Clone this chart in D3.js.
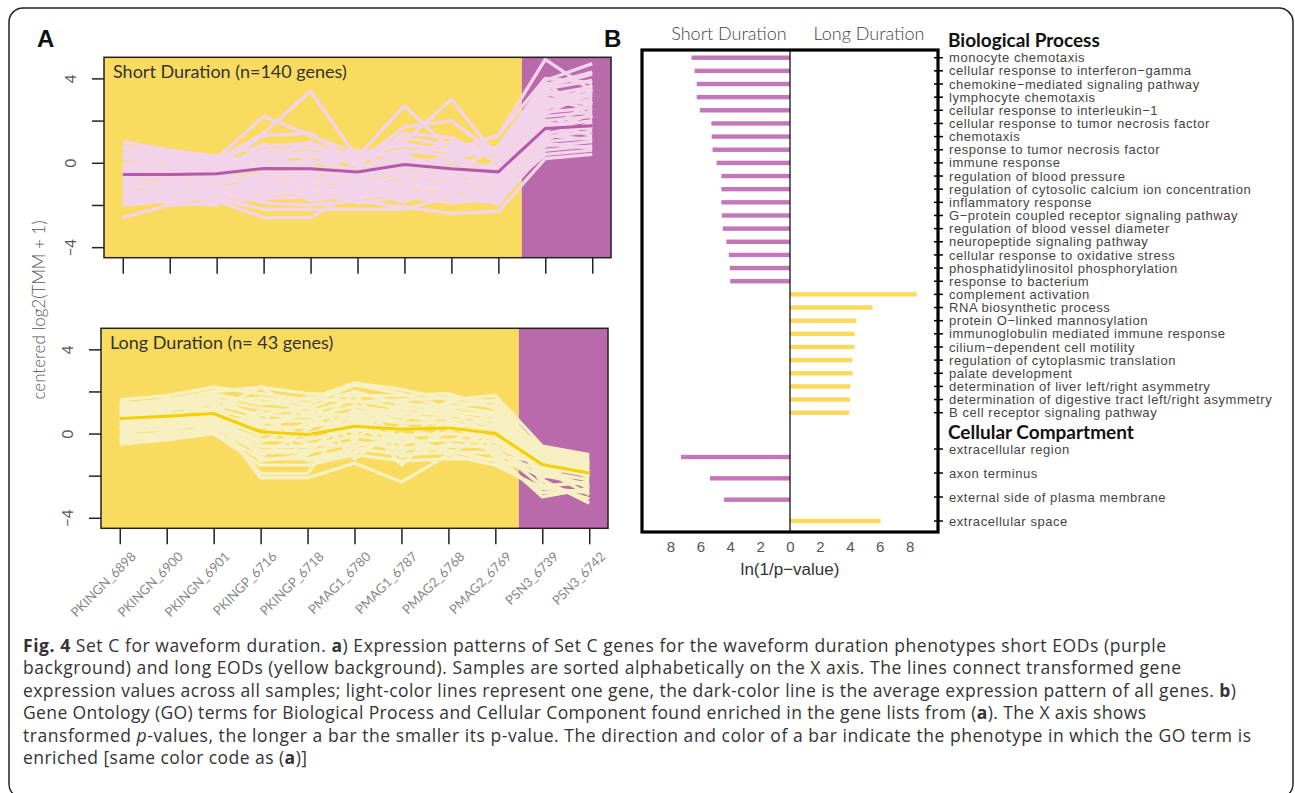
<!DOCTYPE html>
<html>
<head>
<meta charset="utf-8">
<script src="https://cdn.jsdelivr.net/npm/d3@7"></script>
<style>
  body { margin: 0; background: #fff; }
  svg { display: block; }
</style>
</head>
<body>
<svg id="svg"></svg>
<script>
// samples on the x axis of panel A
const samples = ['PKINGN_6898', 'PKINGN_6900', 'PKINGN_6901', 'PKINGP_6716', 'PKINGP_6718',
  'PMAG1_6780', 'PMAG1_6787', 'PMAG2_6768', 'PMAG2_6769', 'PSN3_6739', 'PSN3_6742'];

// short duration set: average line + a selection of gene lines
const shortMean = [-0.55, -0.55, -0.52, -0.27, -0.28, -0.44, -0.08, -0.28, -0.43, 1.63, 1.75];
const shortGenes = [
  [1.0, 0.6, 0.3, 0.8, 0.9, 0.2, 1.2, 0.8, 0.7, 3.9, 4.7],
  [0.8, 0.5, 0.2, 2.2, 1.3, 0.4, 0.9, 0.5, 1.3, 4.9, 3.4],
  [0.4, 0.3, 0.1, 1.4, 3.4, 0.2, 0.6, 0.3, 0.5, 3.7, 4.3],
  [0.2, 0.0, -0.1, 0.6, 0.7, 0.3, 2.7, 0.6, 0.4, 3.5, 3.9],
  [0.0, -0.2, 0.0, 0.4, 0.5, 0.1, 1.0, 3.0, 0.2, 3.2, 3.6],
  [-0.2, -0.3, -0.2, 0.3, 0.3, 0.0, 1.7, 2.0, 0.3, 3.0, 2.8],
  [-0.4, -0.4, -0.4, 0.1, 1.0, -0.2, 0.4, 1.0, 0.1, 2.8, 3.3],
  [-0.6, -0.5, -0.5, -0.1, 0.1, -0.4, 0.2, 0.0, -0.2, 2.6, 3.0],
  [-0.8, -0.7, -0.6, -0.3, -0.2, -0.5, 0.0, -0.2, -0.4, 2.4, 2.6],
  [-1.0, -0.9, -0.8, -0.5, -0.4, -0.7, -0.2, -0.4, -0.6, 2.2, 2.4],
  [-1.2, -1.1, -1.0, -0.7, -0.6, -0.9, -0.4, -0.6, -0.8, 2.0, 2.2],
  [-1.4, -1.3, -1.2, -0.9, -0.8, -1.1, -0.6, -0.8, -1.0, 1.7, 2.0],
  [-1.6, -1.5, -1.4, -1.1, -1.0, -1.3, -0.8, -1.0, -1.2, 1.4, 1.7],
  [-1.8, -1.7, -1.6, -1.3, -1.2, -1.4, -1.0, -1.2, -1.4, 1.2, 1.5],
  [-2.0, -1.8, -1.7, -1.5, -1.4, -1.5, -1.2, -1.3, -1.6, 1.0, 1.2],
  [-2.6, -2.0, -1.9, -1.7, -1.6, -1.7, -1.4, -1.5, -1.8, 0.8, 1.0],
  [-1.5, -1.6, -1.8, -2.6, -2.6, -1.3, -1.5, -1.7, -1.9, 0.6, 0.8],
  [-1.3, -1.5, -1.7, -2.2, -2.2, -2.2, -2.2, -1.6, -1.5, 0.4, 0.6],
  [-1.1, -1.2, -1.3, -1.9, -2.0, -1.8, -2.1, -2.4, -2.3, 0.2, 0.4],
  [0.6, 0.4, 0.2, 0.2, 0.4, 0.5, 0.8, 0.6, 1.3, 4.0, 3.8],
  [-0.1, 0.1, 0.3, -0.2, 0.0, 0.2, 0.5, 0.7, 0.5, 3.6, 4.2],
  [-0.3, -0.6, -0.3, 0.0, -0.3, -0.6, -0.1, 0.2, -0.3, 2.9, 3.5],
  [-0.9, -1.0, -0.9, -0.8, -1.3, -1.0, -0.9, -1.1, -0.7, 1.9, 1.6],
  [-1.7, -1.4, -1.5, -1.2, -0.9, -1.6, -1.3, -0.9, -1.1, 1.5, 2.9],
  [-0.5, -0.8, -1.1, -1.4, -1.5, -0.8, -1.7, -1.4, -0.9, 0.9, 0.7],
  [0.3, 0.2, -0.1, 1.3, 1.4, -0.1, 1.4, 1.2, 0.0, 3.3, 2.7],
  [-0.1, -0.4, -0.7, -0.6, -0.5, -0.3, -0.5, -0.7, -0.2, 3.1, 2.5],
  [-0.7, -0.3, 0.1, -0.4, -0.9, -0.8, 0.3, -0.3, -0.8, 2.7, 3.2],
  [-1.3, -0.9, -0.6, 0.2, -0.1, -1.2, -1.1, -0.2, -1.3, 1.6, 2.3],
  [-1.9, -1.6, -1.2, -1.0, -0.7, -1.9, -1.6, -1.9, -1.7, 1.1, 1.9],
  [0.5, 0.1, -0.4, 0.5, -0.5, 0.4, -0.3, 0.4, 0.6, 3.4, 3.1],
  [-0.2, -0.9, -1.3, -1.6, -1.1, 0.0, -0.7, -1.5, 0.2, 2.5, 3.7],
  [-1.5, -1.9, -2.0, -0.6, -1.7, -1.1, -1.9, -0.5, -2.0, 1.3, 1.1],
  [0.7, -0.1, -0.6, 0.9, -0.7, 0.6, 0.1, -0.5, 0.8, 3.8, 2.1],
  [-0.9, -1.3, -0.2, -1.8, 0.5, -0.6, -1.2, 0.4, -0.5, 2.3, 3.4],
  [-1.2, 0.0, -1.6, -0.5, -1.8, -1.5, 0.6, -1.8, -1.0, 1.8, 1.3]
];

// long duration set
const longMean = [0.71, 0.82, 0.95, 0.08, -0.05, 0.35, 0.2, 0.27, 0.0, -1.47, -1.87];
const longGenes = [
  [1.6, 1.8, 2.2, 1.9, 1.6, 2.4, 2.1, 1.6, 1.8, -0.6, -1.0],
  [1.4, 1.6, 2.0, 2.2, 1.9, 1.8, 1.8, 1.9, 1.2, -0.7, -1.1],
  [1.3, 1.5, 1.8, 1.5, 1.2, 2.0, 1.4, 1.3, 1.0, -0.8, -1.2],
  [1.1, 1.3, 1.6, 1.2, 1.0, 1.6, 1.2, 1.1, 0.8, -0.9, -1.3],
  [1.0, 1.1, 1.4, 0.9, 0.8, 1.3, 1.0, 0.9, 0.6, -1.0, -1.4],
  [0.9, 0.9, 1.2, 0.6, 0.6, 1.0, 0.8, 0.7, 0.4, -1.1, -1.5],
  [0.7, 0.7, 1.0, 0.3, 0.3, 0.8, 0.5, 0.5, 0.2, -1.2, -1.6],
  [0.5, 0.6, 0.8, 0.0, 0.0, 0.5, 0.2, 0.3, 0.0, -1.3, -1.7],
  [0.3, 0.4, 0.6, -0.3, -0.3, 0.2, -0.1, 0.0, -0.2, -1.4, -1.8],
  [0.1, 0.2, 0.5, -0.6, -0.6, -0.1, -0.4, -0.3, -0.4, -1.5, -1.9],
  [-0.1, 0.0, 0.3, -0.9, -0.9, -0.4, -0.7, -0.6, -0.6, -1.6, -2.0],
  [-0.3, -0.2, 0.1, -1.2, -1.2, -0.7, -1.0, -0.9, -0.9, -1.8, -2.2],
  [-0.5, -0.3, 0.0, -1.5, -1.5, -1.0, -1.3, -1.2, -1.2, -2.0, -2.4],
  [0.6, 0.8, 0.9, -2.1, -2.1, -1.4, -2.3, -1.0, -1.5, -2.6, -2.8],
  [0.2, 0.5, 0.7, -1.9, -1.9, 1.0, -1.5, 0.6, -1.0, -3.0, -2.6],
  [1.2, 1.4, 1.1, 2.2, 0.9, 0.9, 0.6, 1.5, 1.3, -2.4, -3.1],
  [0.8, 1.0, 1.9, 1.4, 1.7, 1.5, 1.6, 1.7, 1.5, -2.2, -3.3],
  [0.4, 0.3, 0.4, 0.9, 1.3, -1.2, 0.4, -0.4, 0.5, -1.9, -2.5],
  [-0.2, -0.1, 0.2, 0.4, -0.5, -0.6, -0.2, -0.8, -1.3, -2.8, -2.7],
  [-0.4, 0.1, 0.6, -0.4, 0.5, 0.4, 1.2, 0.2, 0.7, -1.7, -2.9],
  [1.5, 1.2, 1.5, 1.7, 1.4, 2.3, 1.9, 1.2, 1.6, -0.9, -1.6],
  [0.0, -0.3, 0.4, -0.8, -0.8, 0.7, -1.1, -0.5, -0.7, -2.5, -2.3],
  [1.3, 0.6, 1.7, 0.7, -0.2, 1.1, 0.9, 0.4, -0.3, -1.1, -2.1],
  [0.9, 1.7, 0.9, -0.1, 1.4, 0.0, 1.5, 1.0, 0.9, -0.8, -1.8],
  [0.6, 0.1, 1.3, -1.1, 0.2, 1.9, -0.6, 1.4, -0.8, -2.1, -1.3],
  [-0.3, 0.9, 0.0, 1.1, -1.3, -0.9, 0.0, -1.0, 0.3, -1.6, -2.6],
  [1.1, 0.5, 0.8, 0.5, 0.9, -0.3, 1.3, 0.8, -1.1, -1.3, -2.0],
  [0.2, 1.3, 1.7, -1.3, -1.0, 1.2, -0.9, 0.1, 1.0, -1.9, -1.4]
];

// panel B: ln(1/p-value), negative = short duration, positive = long duration
const bpTerms = ['monocyte chemotaxis', 'cellular response to interferon\u2212gamma',
  'chemokine\u2212mediated signaling pathway', 'lymphocyte chemotaxis',
  'cellular response to interleukin\u22121', 'cellular response to tumor necrosis factor',
  'chemotaxis', 'response to tumor necrosis factor', 'immune response',
  'regulation of blood pressure', 'regulation of cytosolic calcium ion concentration',
  'inflammatory response', 'G\u2212protein coupled receptor signaling pathway',
  'regulation of blood vessel diameter', 'neuropeptide signaling pathway',
  'cellular response to oxidative stress', 'phosphatidylinositol phosphorylation',
  'response to bacterium', 'complement activation', 'RNA biosynthetic process',
  'protein O\u2212linked mannosylation', 'immunoglobulin mediated immune response',
  'cilium\u2212dependent cell motility', 'regulation of cytoplasmic translation',
  'palate development', 'determination of liver left/right asymmetry',
  'determination of digestive tract left/right asymmetry', 'B cell receptor signaling pathway'];
const bpScores = [-6.59, -6.38, -6.24, -6.24, -6.03, -5.26, -5.24, -5.18, -4.91, -4.59,
  -4.59, -4.59, -4.56, -4.5, -4.26, -4.09, -4.03, -4.0,
  8.47, 5.53, 4.44, 4.32, 4.32, 4.18, 4.18, 4.03, 4.03, 3.97];
const ccTerms = ['extracellular region', 'axon terminus', 'external side of plasma membrane', 'extracellular space'];
const ccScores = [-7.29, -5.35, -4.41, 6.06];
const bTicks = [-8, -6, -4, -2, 0, 2, 4, 6, 8];

// caption, as [text, style] runs
const captionLines = [
  [['Fig. 4', 'b'], [' Set C for waveform duration. ', ''], ['a', 'b'], [') Expression patterns of Set C genes for the waveform duration phenotypes short EODs (purple', '']],
  [['background) and long EODs (yellow background). Samples are sorted alphabetically on the X axis. The lines connect transformed gene', '']],
  [['expression values across all samples; light-color lines represent one gene, the dark-color line is the average expression pattern of all genes. ', ''], ['b', 'b'], [')', '']],
  [['Gene Ontology (GO) terms for Biological Process and Cellular Component found enriched in the gene lists from (', ''], ['a', 'b'], ['). The X axis shows', '']],
  [['transformed ', ''], ['p', 'i'], ['-values, the longer a bar the smaller its p-value. The direction and color of a bar indicate the phenotype in which the GO term is', '']],
  [['enriched [same color code as (', ''], ['a', 'b'], [')]', '']]
];
// rendered width of each caption line in the original
const captionWidths = [1143, 1158, 1213, 1123, 1228, 284];

const width = 1295;
const height = 793;
const yellow = '#f9dc5f';
const purple = '#b96aab';

const svg = d3.select('#svg')
  .attr('width', width)
  .attr('height', height)
  .style('font-family', 'Lato, sans-serif');

// outer frame
svg.append('rect')
  .attr('x', 9).attr('y', 8)
  .attr('width', 1284).attr('height', 790)
  .attr('rx', 14)
  .attr('fill', 'none')
  .attr('stroke', '#222')
  .attr('stroke-width', 1.5);

// panel letters
svg.append('text').attr('x', 37).attr('y', 47).text('A')
  .attr('font-family', 'Liberation Sans, Arial').attr('font-weight', 'bold').attr('font-size', 24).attr('fill', '#111');
svg.append('text').attr('x', 604).attr('y', 47).text('B')
  .attr('font-family', 'Liberation Sans, Arial').attr('font-weight', 'bold').attr('font-size', 24).attr('fill', '#111');

// ---------- panel A ----------
const panels = [
  { left: 104, right: 611, top: 57.3, bottom: 257.7, genes: shortGenes, mean: shortMean,
    lineColor: '#f3d3e9', meanColor: '#b35aa8', title: 'Short Duration (n=140 genes)', labels: false },
  { left: 101, right: 608, top: 328.3, bottom: 528.3, genes: longGenes, mean: longMean,
    lineColor: '#f6f0c2', meanColor: '#f5d000', title: 'Long Duration (n= 43 genes)', labels: true }
];

panels.forEach((p, k) => {
  const x = d3.scaleLinear().domain([0.6, 11.4]).range([p.left, p.right]);
  const y = d3.scaleLinear().domain([-4.5, 5]).range([p.bottom, p.top]);
  const g = svg.append('g');

  g.append('clipPath').attr('id', 'clipA' + k)
    .append('rect')
    .attr('x', p.left).attr('y', p.top)
    .attr('width', p.right - p.left).attr('height', p.bottom - p.top);

  g.append('rect')
    .attr('x', p.left).attr('y', p.top)
    .attr('width', x(9.5) - p.left).attr('height', p.bottom - p.top)
    .attr('fill', yellow);
  g.append('rect')
    .attr('x', x(9.5)).attr('y', p.top)
    .attr('width', p.right - x(9.5)).attr('height', p.bottom - p.top)
    .attr('fill', purple);

  const line = d3.line()
    .x((d, i) => x(i + 1))
    .y(d => y(d));

  const lines = g.append('g').attr('clip-path', `url(#clipA${k})`);
  lines.selectAll('path.gene')
    .data(p.genes)
    .enter()
    .append('path')
    .attr('class', 'gene')
    .attr('d', line)
    .attr('fill', 'none')
    .attr('stroke', p.lineColor)
    .attr('stroke-width', 3.4)
    .attr('stroke-linejoin', 'round');

  lines.append('path')
    .attr('d', line(p.mean))
    .attr('fill', 'none')
    .attr('stroke', p.meanColor)
    .attr('stroke-width', 3);

  g.append('text')
    .attr('x', p.left + 9).attr('y', p.top + 21)
    .attr('font-size', 18)
    .attr('fill', '#333')
    .text(p.title);

  g.append('rect')
    .attr('x', p.left).attr('y', p.top)
    .attr('width', p.right - p.left).attr('height', p.bottom - p.top)
    .attr('fill', 'none').attr('stroke', '#222').attr('stroke-width', 1.5);

  // y axis
  const yAxis = g.append('g')
    .attr('transform', `translate(${p.left},0)`)
    .call(d3.axisLeft(y).tickValues([-4, -2, 0, 2, 4]).tickSize(12)
      .tickFormat(d => d % 4 === 0 ? (d < 0 ? '\u2212' + Math.abs(d) : d) : ''));
  yAxis.select('.domain').remove();
  yAxis.selectAll('line').attr('stroke', '#222').attr('stroke-width', 1.5);
  yAxis.selectAll('text')
    .attr('x', null).attr('dy', null)
    .attr('transform', 'translate(-28,0) rotate(-90)')
    .attr('text-anchor', 'middle')
    .attr('font-family', 'Lato, sans-serif')
    .attr('font-size', 15)
    .attr('fill', '#555');

  // x axis
  const xAxis = g.append('g')
    .attr('transform', `translate(0,${p.bottom})`)
    .call(d3.axisBottom(x).tickValues(d3.range(1, 12)).tickSize(16).tickFormat(''));
  xAxis.select('.domain').remove();
  xAxis.selectAll('line').attr('stroke', '#222').attr('stroke-width', 1.5);

  if (p.labels) {
    g.selectAll('text.sample')
      .data(samples)
      .enter()
      .append('text')
      .attr('class', 'sample')
      .attr('transform', (d, i) => `translate(${x(i + 1) + 17},${p.bottom + 29}) rotate(-45)`)
      .attr('text-anchor', 'end')
      .attr('font-size', 13)
      .attr('fill', '#888')
      .text(d => d);
  }
});

// y axis title
svg.append('text')
  .attr('transform', 'translate(45,310) rotate(-90)')
  .attr('text-anchor', 'middle')
  .attr('font-size', 17)
  .attr('font-weight', 300)
  .attr('fill', '#555')
  .text('centered log2(TMM + 1)');

// ---------- panel B ----------
const bLeft = 642, bRight = 938, bTop = 50, bBottom = 532;
const xB = d3.scaleLinear().domain([-9.9, 9.9]).range([bLeft, bRight]);
const yBP = d3.scalePoint().domain(bpTerms).range([57.7, 412.7]);
const yCCLabel = d3.scalePoint().domain(ccTerms).range([449, 521]);
const yCCBar = d3.scalePoint().domain(ccTerms).range([457, 521]);
const barColor = v => v < 0 ? '#c377b8' : '#fcd95a';
const gB = svg.append('g');

gB.selectAll('rect.bp')
  .data(bpTerms)
  .enter()
  .append('rect')
  .attr('class', 'bp')
  .attr('x', (d, i) => Math.min(xB(0), xB(bpScores[i])))
  .attr('y', d => yBP(d) - 2.2)
  .attr('width', (d, i) => Math.abs(xB(bpScores[i]) - xB(0)))
  .attr('height', 4.4)
  .attr('fill', (d, i) => barColor(bpScores[i]));

gB.selectAll('rect.cc')
  .data(ccTerms)
  .enter()
  .append('rect')
  .attr('class', 'cc')
  .attr('x', (d, i) => Math.min(xB(0), xB(ccScores[i])))
  .attr('y', d => yCCBar(d) - 2.2)
  .attr('width', (d, i) => Math.abs(xB(ccScores[i]) - xB(0)))
  .attr('height', 4.4)
  .attr('fill', (d, i) => barColor(ccScores[i]));

// zero line and box
gB.append('line')
  .attr('x1', xB(0)).attr('x2', xB(0))
  .attr('y1', bTop).attr('y2', bBottom)
  .attr('stroke', '#000').attr('stroke-width', 1.2);
gB.append('rect')
  .attr('x', bLeft).attr('y', bTop)
  .attr('width', bRight - bLeft).attr('height', bBottom - bTop)
  .attr('fill', 'none').attr('stroke', '#000').attr('stroke-width', 3.2);

// right-side ticks and term labels
const labelFont = 'Liberation Sans, Arial, sans-serif';
const allLabels = bpTerms.map(t => ({ t, y: yBP(t) })).concat(ccTerms.map(t => ({ t, y: yCCLabel(t) })));
gB.selectAll('line.rt')
  .data(allLabels)
  .enter()
  .append('line')
  .attr('class', 'rt')
  .attr('x1', bRight - 4).attr('x2', bRight + 5)
  .attr('y1', d => d.y).attr('y2', d => d.y)
  .attr('stroke', '#000').attr('stroke-width', 1.5);
gB.selectAll('text.term')
  .data(allLabels)
  .enter()
  .append('text')
  .attr('class', 'term')
  .attr('x', 949)
  .attr('y', d => d.y + 4.6)
  .attr('font-family', labelFont)
  .attr('font-size', 13)
  .attr('letter-spacing', 0.55)
  .attr('fill', '#444')
  .text(d => d.t);

// group headers
svg.append('text').attr('x', 948).attr('y', 47).text('Biological Process')
  .attr('font-weight', 'bold').attr('font-size', 19).attr('fill', '#111');
svg.append('text').attr('x', 948).attr('y', 439).text('Cellular Compartment')
  .attr('font-weight', 'bold').attr('font-size', 19).attr('fill', '#111');

// column headers
svg.append('text').attr('x', 729).attr('y', 40).attr('text-anchor', 'middle')
  .attr('font-size', 18).attr('font-weight', 300).attr('fill', '#444').text('Short Duration');
svg.append('text').attr('x', 869).attr('y', 40).attr('text-anchor', 'middle')
  .attr('font-size', 18).attr('font-weight', 300).attr('fill', '#444').text('Long Duration');

// bottom axis
const axB = gB.append('g')
  .attr('transform', `translate(0,${bBottom})`)
  .call(d3.axisBottom(xB).tickValues(bTicks).tickSize(0).tickPadding(9).tickFormat(d => Math.abs(d)));
axB.select('.domain').remove();
axB.selectAll('text')
  .attr('font-family', labelFont)
  .attr('font-size', 15)
  .attr('fill', '#555');
svg.append('text')
  .attr('x', xB(0)).attr('y', 575)
  .attr('text-anchor', 'middle')
  .attr('font-family', labelFont)
  .attr('font-size', 17)
  .attr('fill', '#333')
  .text('ln(1/p\u2212value)');

// ---------- caption ----------
const cap = svg.append('g')
  .attr('font-family', 'Open Sans, sans-serif')
  .attr('font-size', 17.5)
  .attr('fill', '#333');
captionLines.forEach((runs, i) => {
  const t = cap.append('text')
    .attr('x', 23).attr('y', 652 + i * 22.4)
    .attr('textLength', captionWidths[i])
    .attr('lengthAdjust', 'spacing');
  runs.forEach(r => {
    t.append('tspan')
      .attr('font-weight', r[1] === 'b' ? 'bold' : null)
      .attr('font-style', r[1] === 'i' ? 'italic' : null)
      .text(r[0]);
  });
});
</script>
</body>
</html>
